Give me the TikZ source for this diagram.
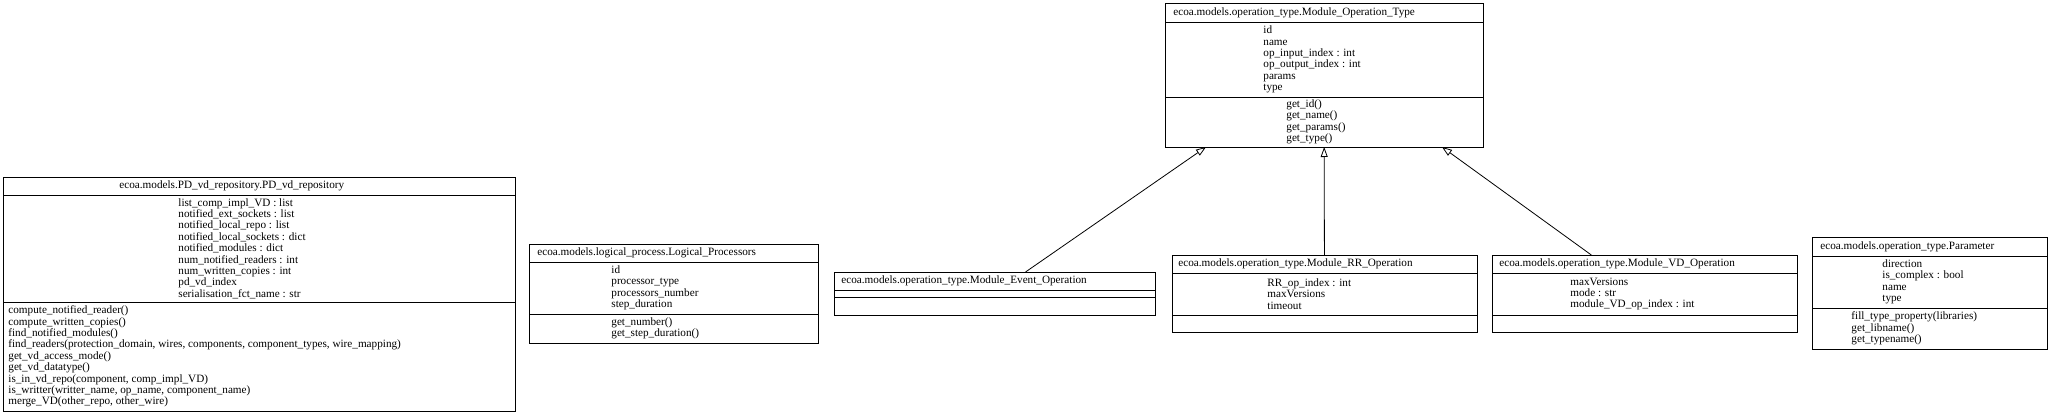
\documentclass[tikz,border=0pt]{standalone}
\usepackage{fontspec}
\setmainfont{Liberation Serif}
\usetikzlibrary{arrows.meta}
\tikzset{
    classbox/.style={draw,rectangle,inner sep=0pt,outer sep=0pt,anchor=north west},
    fieldtext/.style={anchor=west,align=left,inner sep=0pt,font=\fontsize{11.2}{11.4}\selectfont},
    inherit/.style={-{Triangle[open,length=10pt,width=7pt]}}
}
\begin{document}
\begin{tikzpicture}[x=1pt,y=-1pt,line width=0.8pt]
            \useasboundingbox (0,0) rectangle (2052,414);
            \node[classbox,minimum width=512pt,minimum height=234pt] (pdvd) at (3,177) {};
            \draw (3,195)--(515,195);
            \draw (3,302)--(515,302);
            \node[fieldtext] (pdvdT) at (119,186) {ecoa.models.PD\_vd\_repository.PD\_vd\_repository};
            \node[fieldtext] (pdvdA) at (178,248.5) {list\_comp\_impl\_VD : list\\notified\_ext\_sockets : list\\notified\_local\_repo : list\\notified\_local\_sockets : dict\\notified\_modules : dict\\num\_notified\_readers : int\\num\_written\_copies : int\\pd\_vd\_index\\serialisation\_fct\_name : str};
            \node[fieldtext] (pdvdM) at (8,356.5) {compute\_notified\_reader()\\compute\_written\_copies()\\find\_notified\_modules()\\find\_readers(protection\_domain, wires, components, component\_types, wire\_mapping)\\get\_vd\_access\_mode()\\get\_vd\_datatype()\\is\_in\_vd\_repo(component, comp\_impl\_VD)\\is\_writter(writter\_name, op\_name, component\_name)\\merge\_VD(other\_repo, other\_wire)};
            \node[classbox,minimum width=289pt,minimum height=99pt] (logproc) at (529,244) {};
            \draw (529,262)--(818,262);
            \draw (529,314)--(818,314);
            \node[fieldtext] (logprocT) at (537,253) {ecoa.models.logical\_process.Logical\_Processors};
            \node[fieldtext] (logprocA) at (611,288) {id\\processor\_type\\processors\_number\\step\_duration};
            \node[fieldtext] (logprocM) at (611,328.5) {get\_number()\\get\_step\_duration()};
            \node[classbox,minimum width=321pt,minimum height=43pt] (evop) at (834,272) {};
            \draw (834,290)--(1155,290);
            \draw (834,297)--(1155,297);
            \node[fieldtext] (evopT) at (841,281) {ecoa.models.operation\_type.Module\_Event\_Operation};
            \node[classbox,minimum width=318pt,minimum height=144pt] (optype) at (1165,3) {};
            \draw (1165,22)--(1483,22);
            \draw (1165,97)--(1483,97);
            \node[fieldtext] (optypeT) at (1173,12.5) {ecoa.models.operation\_type.Module\_Operation\_Type};
            \node[fieldtext] (optypeA) at (1263,59.5) {id\\name\\op\_input\_index : int\\op\_output\_index : int\\params\\type};
            \node[fieldtext] (optypeM) at (1286,122) {get\_id()\\get\_name()\\get\_params()\\get\_type()};
            \node[classbox,minimum width=305pt,minimum height=77pt] (rrop) at (1172,255) {};
            \draw (1172,273)--(1477,273);
            \draw (1172,315)--(1477,315);
            \node[fieldtext] (rropT) at (1178,264) {ecoa.models.operation\_type.Module\_RR\_Operation};
            \node[fieldtext] (rropA) at (1267,294) {RR\_op\_index : int\\maxVersions\\timeout};
            \node[classbox,minimum width=305pt,minimum height=77pt] (vdop) at (1492,255) {};
            \draw (1492,273)--(1797,273);
            \draw (1492,315)--(1797,315);
            \node[fieldtext] (vdopT) at (1499,264) {ecoa.models.operation\_type.Module\_VD\_Operation};
            \node[fieldtext] (vdopA) at (1570,294) {maxVersions\\mode : str\\module\_VD\_op\_index : int};
            \node[classbox,minimum width=235pt,minimum height=112pt] (param) at (1812,237) {};
            \draw (1812,256)--(2047,256);
            \draw (1812,308)--(2047,308);
            \node[fieldtext] (paramT) at (1820,246.5) {ecoa.models.operation\_type.Parameter};
            \node[fieldtext] (paramA) at (1882,282) {direction\\is\_complex : bool\\name\\type};
            \node[fieldtext] (paramM) at (1851,328.5) {fill\_type\_property(libraries)\\get\_libname()\\get\_typename()};
            \draw[inherit] (evop)--([xshift=41pt]optype.south west);
            \draw[inherit] (rrop)--(optype);
            \draw[inherit] (vdop)--([xshift=-41pt]optype.south east);
\end{tikzpicture}
\end{document}
